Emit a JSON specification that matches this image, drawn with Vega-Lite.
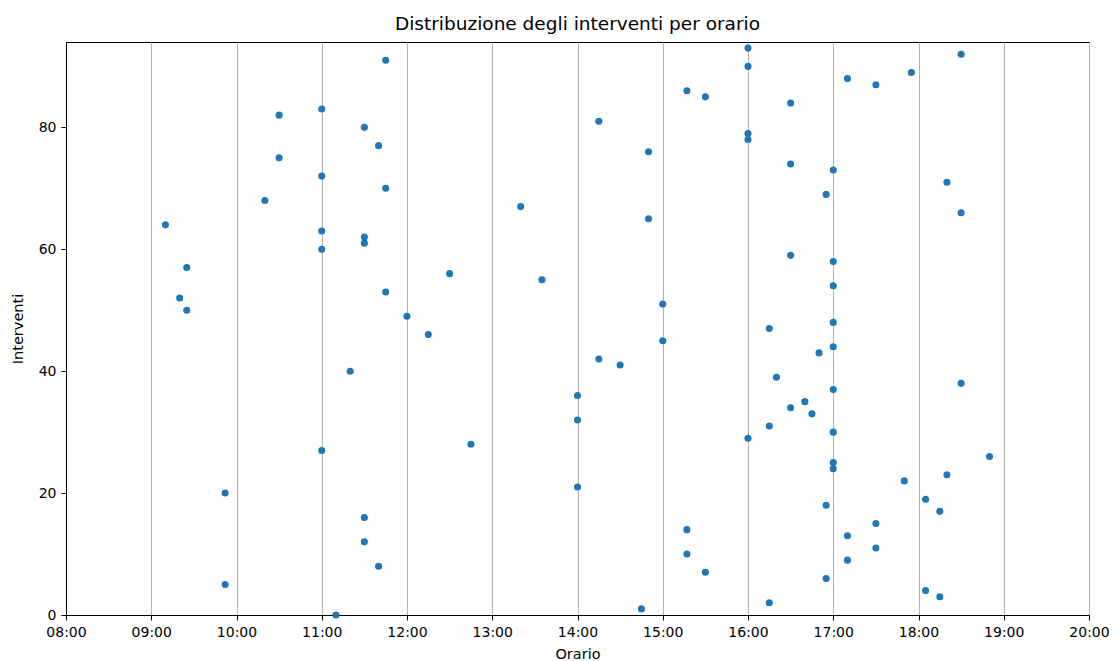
{
  "$schema": "https://vega.github.io/schema/vega-lite/v6.json",
  "autosize": {"type": "none"},
  "padding": {"left": 66, "top": 42, "right": 24, "bottom": 46},
  "width": 1023,
  "height": 573,
  "background": "white",
  "title": {"text": "Distribuzione degli interventi per orario", "font": "DejaVu Sans", "fontSize": 18.5, "fontWeight": "normal", "color": "#000000", "offset": 9, "anchor": "middle"},
  "config": {
    "view": {"stroke": "#000000", "strokeWidth": 1},
    "axis": {"labelFont": "DejaVu Sans", "titleFont": "DejaVu Sans", "labelFontSize": 14, "titleFontSize": 14.5, "titleFontWeight": "normal", "labelColor": "#000000", "titleColor": "#000000", "domainColor": "#000000", "tickColor": "#000000", "tickSize": 5, "labelPadding": 5}
  },
  "data": {"values": [
    {"orario": "2024-01-01T09:10", "intervento": 64},
    {"orario": "2024-01-01T09:20", "intervento": 52},
    {"orario": "2024-01-01T09:25", "intervento": 57},
    {"orario": "2024-01-01T09:25", "intervento": 50},
    {"orario": "2024-01-01T09:52", "intervento": 20},
    {"orario": "2024-01-01T09:52", "intervento": 5},
    {"orario": "2024-01-01T10:20", "intervento": 68},
    {"orario": "2024-01-01T10:30", "intervento": 82},
    {"orario": "2024-01-01T10:30", "intervento": 75},
    {"orario": "2024-01-01T11:00", "intervento": 83},
    {"orario": "2024-01-01T11:00", "intervento": 72},
    {"orario": "2024-01-01T11:00", "intervento": 63},
    {"orario": "2024-01-01T11:00", "intervento": 60},
    {"orario": "2024-01-01T11:00", "intervento": 27},
    {"orario": "2024-01-01T11:10", "intervento": 0},
    {"orario": "2024-01-01T11:20", "intervento": 40},
    {"orario": "2024-01-01T11:30", "intervento": 80},
    {"orario": "2024-01-01T11:30", "intervento": 62},
    {"orario": "2024-01-01T11:30", "intervento": 61},
    {"orario": "2024-01-01T11:30", "intervento": 16},
    {"orario": "2024-01-01T11:30", "intervento": 12},
    {"orario": "2024-01-01T11:40", "intervento": 77},
    {"orario": "2024-01-01T11:40", "intervento": 8},
    {"orario": "2024-01-01T11:45", "intervento": 91},
    {"orario": "2024-01-01T11:45", "intervento": 70},
    {"orario": "2024-01-01T11:45", "intervento": 53},
    {"orario": "2024-01-01T12:00", "intervento": 49},
    {"orario": "2024-01-01T12:15", "intervento": 46},
    {"orario": "2024-01-01T12:30", "intervento": 56},
    {"orario": "2024-01-01T12:45", "intervento": 28},
    {"orario": "2024-01-01T13:20", "intervento": 67},
    {"orario": "2024-01-01T13:35", "intervento": 55},
    {"orario": "2024-01-01T14:00", "intervento": 36},
    {"orario": "2024-01-01T14:00", "intervento": 32},
    {"orario": "2024-01-01T14:00", "intervento": 21},
    {"orario": "2024-01-01T14:15", "intervento": 81},
    {"orario": "2024-01-01T14:15", "intervento": 42},
    {"orario": "2024-01-01T14:30", "intervento": 41},
    {"orario": "2024-01-01T14:45", "intervento": 1},
    {"orario": "2024-01-01T14:50", "intervento": 76},
    {"orario": "2024-01-01T14:50", "intervento": 65},
    {"orario": "2024-01-01T15:00", "intervento": 51},
    {"orario": "2024-01-01T15:00", "intervento": 45},
    {"orario": "2024-01-01T15:17", "intervento": 86},
    {"orario": "2024-01-01T15:17", "intervento": 14},
    {"orario": "2024-01-01T15:17", "intervento": 10},
    {"orario": "2024-01-01T15:30", "intervento": 85},
    {"orario": "2024-01-01T15:30", "intervento": 7},
    {"orario": "2024-01-01T16:00", "intervento": 93},
    {"orario": "2024-01-01T16:00", "intervento": 90},
    {"orario": "2024-01-01T16:00", "intervento": 79},
    {"orario": "2024-01-01T16:00", "intervento": 78},
    {"orario": "2024-01-01T16:00", "intervento": 29},
    {"orario": "2024-01-01T16:15", "intervento": 47},
    {"orario": "2024-01-01T16:15", "intervento": 31},
    {"orario": "2024-01-01T16:15", "intervento": 2},
    {"orario": "2024-01-01T16:20", "intervento": 39},
    {"orario": "2024-01-01T16:30", "intervento": 84},
    {"orario": "2024-01-01T16:30", "intervento": 74},
    {"orario": "2024-01-01T16:30", "intervento": 59},
    {"orario": "2024-01-01T16:30", "intervento": 34},
    {"orario": "2024-01-01T16:40", "intervento": 35},
    {"orario": "2024-01-01T16:45", "intervento": 33},
    {"orario": "2024-01-01T16:50", "intervento": 43},
    {"orario": "2024-01-01T16:55", "intervento": 69},
    {"orario": "2024-01-01T16:55", "intervento": 18},
    {"orario": "2024-01-01T16:55", "intervento": 6},
    {"orario": "2024-01-01T17:00", "intervento": 73},
    {"orario": "2024-01-01T17:00", "intervento": 58},
    {"orario": "2024-01-01T17:00", "intervento": 54},
    {"orario": "2024-01-01T17:00", "intervento": 48},
    {"orario": "2024-01-01T17:00", "intervento": 44},
    {"orario": "2024-01-01T17:00", "intervento": 37},
    {"orario": "2024-01-01T17:00", "intervento": 30},
    {"orario": "2024-01-01T17:00", "intervento": 25},
    {"orario": "2024-01-01T17:00", "intervento": 24},
    {"orario": "2024-01-01T17:10", "intervento": 88},
    {"orario": "2024-01-01T17:10", "intervento": 13},
    {"orario": "2024-01-01T17:10", "intervento": 9},
    {"orario": "2024-01-01T17:30", "intervento": 87},
    {"orario": "2024-01-01T17:30", "intervento": 15},
    {"orario": "2024-01-01T17:30", "intervento": 11},
    {"orario": "2024-01-01T17:50", "intervento": 22},
    {"orario": "2024-01-01T17:55", "intervento": 89},
    {"orario": "2024-01-01T18:05", "intervento": 19},
    {"orario": "2024-01-01T18:05", "intervento": 4},
    {"orario": "2024-01-01T18:15", "intervento": 17},
    {"orario": "2024-01-01T18:15", "intervento": 3},
    {"orario": "2024-01-01T18:20", "intervento": 71},
    {"orario": "2024-01-01T18:20", "intervento": 23},
    {"orario": "2024-01-01T18:30", "intervento": 92},
    {"orario": "2024-01-01T18:30", "intervento": 66},
    {"orario": "2024-01-01T18:30", "intervento": 38},
    {"orario": "2024-01-01T18:50", "intervento": 26}
  ]},
  "mark": {"type": "point", "filled": true, "shape": "circle", "size": 50, "color": "#1f77b4", "opacity": 1},
  "encoding": {
    "x": {
      "field": "orario", "type": "temporal", "title": "Orario",
      "scale": {"domain": [{"year": 2024, "month": 1, "date": 1, "hours": 8}, {"year": 2024, "month": 1, "date": 1, "hours": 20}], "nice": false},
      "axis": {"format": "%H:%M", "tickCount": "hour", "grid": true, "gridColor": "#b0b0b0", "gridWidth": 1, "titlePadding": 8, "labelFlush": false, "labelOverlap": false}
    },
    "y": {
      "field": "intervento", "type": "quantitative", "title": "Interventi",
      "scale": {"domain": [0, 94], "nice": false, "zero": false},
      "axis": {"values": [0, 20, 40, 60, 80], "grid": false, "titlePadding": 13}
    }
  }
}
